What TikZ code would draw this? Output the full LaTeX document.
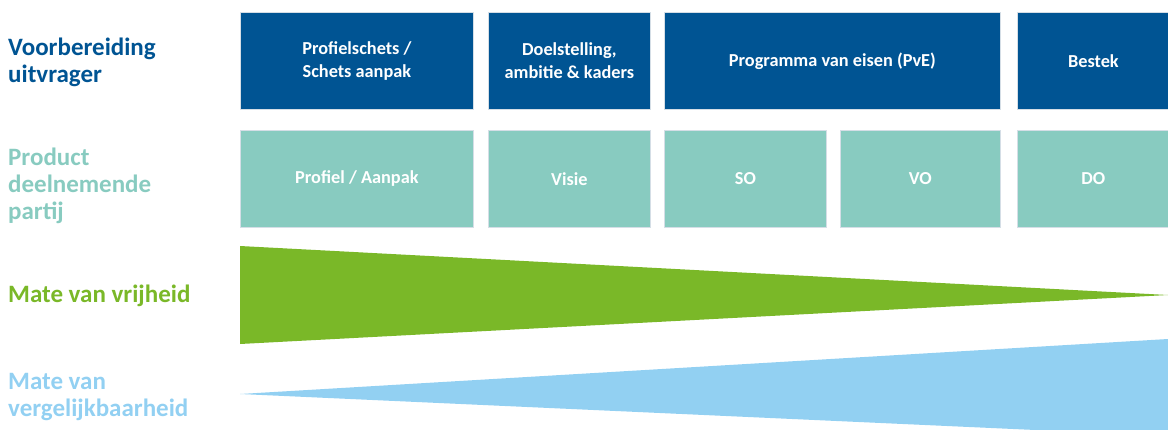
\documentclass[tikz,border=0pt]{standalone}
\usepackage{fontspec}
\setmainfont{Carlito}
\definecolor{darkblue}{HTML}{005493}
\definecolor{teal1}{HTML}{88CBC0}
\definecolor{green1}{HTML}{7AB828}
\definecolor{lightblue}{HTML}{92D0F2}
\definecolor{edge}{HTML}{D5DEE6}
\tikzset{
  topbox/.style={draw=edge, line width=0.8pt, fill=darkblue, text=white, anchor=north west, inner sep=0pt,
    font=\fontsize{18.3}{23}\selectfont\bfseries, align=center, minimum height=97pt},
  prodbox/.style={topbox, fill=teal1},
  rowlabel/.style={anchor=base west, inner sep=0pt, align=left, font=\fontsize{25}{27}\selectfont\bfseries}
}
\begin{document}
\begin{tikzpicture}[x=1pt,y=-1pt]
\useasboundingbox (0,0) rectangle (1168,429);
\clip (0,0) rectangle (1168,429);
% row labels (anchored at the baseline of their last line)
\node[rowlabel, text=darkblue] (l1) at (8,82) {Voorbereiding\\uitvrager};
\node[rowlabel, text=teal1] (l2) at (8,219) {Product\\deelnemende\\partij};
\node[rowlabel, text=green1] (l3) at (8,302) {Mate van vrijheid};
\node[rowlabel, text=lightblue] (l4) at (8,416) {Mate van\\vergelijkbaarheid};
% top row
\node[topbox, minimum width=233pt] (a1) at (240,12) {Profielschets /\\Schets aanpak};
\node[topbox, minimum width=162pt] (a2) at (488,12) {Doelstelling,\\ambitie \& kaders};
\node[topbox, minimum width=336pt] (a3) at (664,12) {Programma van eisen (PvE)};
\node[topbox, minimum width=152pt] (a4) at (1017,12) {Bestek};
% product row
\node[prodbox, minimum width=233pt] (b1) at (240,130) {Profiel / Aanpak};
\node[prodbox, minimum width=162pt] (b2) at (488,130) {Visie};
\node[prodbox, minimum width=162pt] (b3) at (664,130) {SO};
\node[prodbox, minimum width=160pt] (b4) at (840,130) {VO};
\node[prodbox, minimum width=152pt] (b5) at (1017,130) {DO};
% wedges
\fill[green1] (240,246) -- (1168,295) -- (240,344) -- cycle;
\fill[lightblue] (240,394) -- (1168,339) -- (1168,436) -- cycle;
\end{tikzpicture}
\end{document}
